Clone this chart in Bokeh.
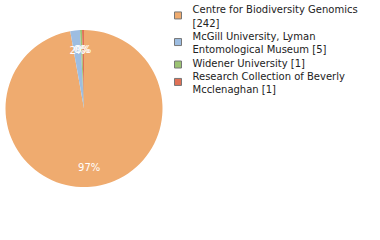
import math
import textwrap
from bokeh.plotting import figure
from bokeh.models import Range1d, ColumnDataSource
from bokeh.core.properties import value
from bokeh.embed import file_html
from bokeh.resources import INLINE

names = ["Centre for Biodiversity Genomics", "McGill University, Lyman Entomological Museum",
         "Widener University", "Research Collection of Beverly Mcclenaghan"]
counts = [242, 5, 1, 1]
colors = ["#EFAB6F", "#9DBDE1", "#9BC372", "#E07156"]

W, H = 380, 240
FONT = "DejaVu Sans"
p = figure(width=W, height=H, output_backend="svg", toolbar_location=None,
           x_range=Range1d(0, W), y_range=Range1d(0, H), min_border=0)
p.axis.visible = False
p.grid.visible = False
p.outline_line_color = None
p.background_fill_color = "white"
p.border_fill_color = "white"

cx, cy, r = 83.5, H - 108, 78.5
total = sum(counts)
starts, ends, lx, ly, labels = [], [], [], [], []
cum = 0.0
for c in counts:
    f0 = cum / total
    cum += c
    f1 = cum / total
    starts.append(math.pi / 2 - 2 * math.pi * f0)
    ends.append(math.pi / 2 - 2 * math.pi * f1)
    mid = math.pi / 2 - math.pi * (f0 + f1)
    lx.append(cx + 0.75 * r * math.cos(mid))
    ly.append(cy + 0.75 * r * math.sin(mid))
    labels.append("%d%%" % round(100 * c / total))

src = ColumnDataSource(dict(start=starts, end=ends, color=colors))
p.wedge(x=cx, y=cy, radius=r, start_angle="start", end_angle="end", direction="clock",
        fill_color="color", line_color=None, source=src)
p.text(x=lx, y=ly, text=labels, text_color="white", text_font=value(FONT),
       text_font_size="10px", text_align="center", text_baseline="middle")

# legend
tx, ty, tlx, sq_x = [], [], [], []
sqx, sqy, sqc = [], [], []
y = 9.3
step = 13.3
for n, c, col in zip(names, counts, colors):
    lines = textwrap.wrap("%s [%d]" % (n, c), width=32)
    ys = []
    for ln in lines:
        tx.append(192)
        ty.append(H - y)
        tlx.append(ln)
        ys.append(y)
        y += step
    mid = sum(ys) / len(ys)
    sqy.append(H - (mid - 1 if len(ys) > 1 else mid + 1.5))
    sqx.append(177.5)
    sqc.append(col)

p.rect(x=sqx, y=sqy, width=7, height=7, fill_color=sqc, line_color="#777777", line_width=1)
p.text(x=tx, y=ty, text=tlx, text_color="#222222", text_font=value(FONT),
       text_font_size="10px", text_align="left", text_baseline="middle")

open("out.html", "w").write(file_html(p, INLINE))
